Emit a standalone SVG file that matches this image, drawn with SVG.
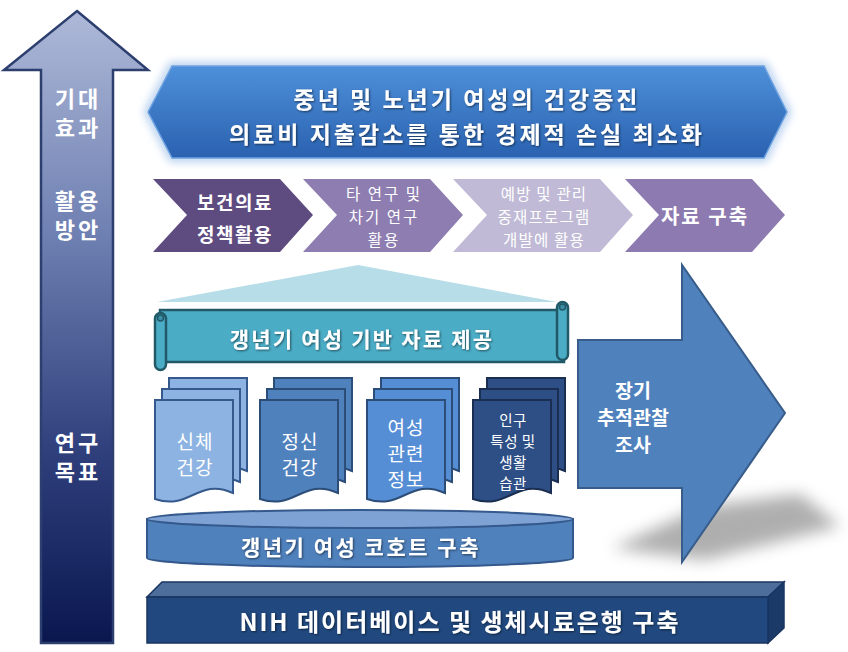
<svg xmlns="http://www.w3.org/2000/svg" width="848" height="652" viewBox="0 0 848 652">
<defs>
<linearGradient id="gArrow" x1="0" y1="0" x2="0" y2="1">
<stop offset="0" stop-color="#AEB9D8"/>
<stop offset="0.35" stop-color="#6F80B2"/>
<stop offset="0.7" stop-color="#2F3F7C"/>
<stop offset="1" stop-color="#0A174F"/>
</linearGradient>
<linearGradient id="gBanner" x1="0" y1="0" x2="0" y2="1">
<stop offset="0" stop-color="#4E90DA"/>
<stop offset="1" stop-color="#2A62B0"/>
</linearGradient>
<filter id="blur4" x="-20%" y="-20%" width="140%" height="140%"><feGaussianBlur stdDeviation="4"/></filter>
<filter id="blur8" x="-30%" y="-50%" width="160%" height="200%"><feGaussianBlur stdDeviation="8"/></filter>
<filter id="ts" x="-10%" y="-30%" width="120%" height="160%"><feDropShadow dx="1" dy="1" stdDeviation="0.8" flood-color="#000" flood-opacity="0.55"/></filter>
</defs>
<style>
text{font-family:"Noto Sans CJK KR","Noto Sans",sans-serif;fill:#fff;text-anchor:middle;dominant-baseline:central}
.b{font-weight:bold}
.doc1{fill:#8DB3E2;stroke:#35598C;stroke-width:2}
.doc2{fill:#4F81BD;stroke:#2C4D78;stroke-width:2}
.doc3{fill:#558ED5;stroke:#2C4D78;stroke-width:2}
.doc4{fill:#2D4F86;stroke:#1A2E52;stroke-width:2}
</style>
<rect width="848" height="652" fill="#fff"/>

<g id="axis-arrow">
<path d="M77,11 L148,70 L113,70 L113,643 L41,643 L41,70 L4,70 Z" fill="url(#gArrow)" stroke="#2D3F6E" stroke-width="2.5"/>
<text class="b" font-size="22" letter-spacing="3"><tspan x="78" y="97">기대</tspan><tspan x="78" dy="29">효과</tspan></text>
<text class="b" font-size="22" letter-spacing="3"><tspan x="78" y="199">활용</tspan><tspan x="78" dy="29">방안</tspan></text>
<text class="b" font-size="22" letter-spacing="3"><tspan x="78" y="441">연구</tspan><tspan x="78" dy="29">목표</tspan></text>
</g>

<g id="banner">
<polygon points="148,112 172,66 764,66 787,112 764,158 172,158" fill="none" stroke="#A9C7EC" stroke-width="7" filter="url(#blur4)"/>
<polygon points="148,112 172,66 764,66 787,112 764,158 172,158" fill="url(#gBanner)" stroke="#6FA3E0" stroke-width="1.5"/>
<text class="b" font-size="23" letter-spacing="3" filter="url(#ts)"><tspan x="467" y="98">중년 및 노년기 여성의 건강증진</tspan><tspan x="467" dy="35">의료비 지출감소를 통한 경제적 손실 최소화</tspan></text>
</g>

<g id="chevron1">
<polygon points="153,179 280,179 313,215 280,252 153,252 187,215" fill="#5E4B80"/>
<text class="b" font-size="19" letter-spacing="1.5"><tspan x="235" y="201">보건의료</tspan><tspan x="235" dy="32">정책활용</tspan></text>
</g>
<g id="chevron2">
<polygon points="303,179 430,179 463,215 430,252 303,252 337,215" fill="#8E7DB1"/>
<text font-size="15.5" letter-spacing="2"><tspan x="384" y="193">타 연구 및</tspan><tspan x="384" dy="23">차기 연구</tspan><tspan x="384" dy="23">활용</tspan></text>
</g>
<g id="chevron3">
<polygon points="453,179 600,179 633,215 600,252 453,252 487,215" fill="#C0BAD6"/>
<text font-size="15.5" letter-spacing="1.2"><tspan x="544" y="193">예방 및 관리</tspan><tspan x="544" dy="23">중재프로그램</tspan><tspan x="544" dy="23">개발에 활용</tspan></text>
</g>
<g id="chevron4">
<polygon points="625,179 752,179 785,215 752,252 625,252 659,215" fill="#8C7AB0"/>
<text class="b" x="705" y="215" font-size="20" letter-spacing="2">자료 구축</text>
</g>

<g id="fan">
<polygon points="358,265 557,302 157,302" fill="#B7DDE8"/>
</g>

<g id="scroll">
<rect x="160" y="310" width="404" height="52" fill="#4BACC6" stroke="#215968" stroke-width="2.5"/>
<rect x="155" y="313" width="11" height="57" rx="5.5" fill="#4BACC6" stroke="#215968" stroke-width="2.5"/>
<circle cx="160.5" cy="318" r="3" fill="#3A8EA6" stroke="#215968" stroke-width="1.5"/>
<rect x="557" y="302" width="11" height="58" rx="5.5" fill="#4BACC6" stroke="#215968" stroke-width="2.5"/>
<circle cx="562.5" cy="307" r="3" fill="#3A8EA6" stroke="#215968" stroke-width="1.5"/>
<text class="b" x="362" y="338" font-size="21" letter-spacing="2.2" filter="url(#ts)">갱년기 여성 기반 자료 제공</text>
</g>

<g id="doc1">
<path class="doc1" d="M169,378 H247 V471 C212,455 204,489 169,477 Z"/>
<path class="doc1" d="M162,389 H240 V482 C205,466 197,500 162,488 Z"/>
<path class="doc1" d="M155,400 H233 V493 C198,477 190,511 155,499 Z"/>
<text font-size="19" letter-spacing="1"><tspan x="195" y="440">신체</tspan><tspan x="195" dy="26">건강</tspan></text>
</g>
<g id="doc2">
<path class="doc2" d="M274,378 H352 V471 C317,455 309,489 274,477 Z"/>
<path class="doc2" d="M267,389 H345 V482 C310,466 302,500 267,488 Z"/>
<path class="doc2" d="M260,400 H338 V493 C303,477 295,511 260,499 Z"/>
<text font-size="19" letter-spacing="1"><tspan x="300" y="440">정신</tspan><tspan x="300" dy="26">건강</tspan></text>
</g>
<g id="doc3">
<path class="doc3" d="M381,378 H459 V471 C424,455 416,489 381,477 Z"/>
<path class="doc3" d="M374,389 H452 V482 C417,466 409,500 374,488 Z"/>
<path class="doc3" d="M367,400 H445 V493 C410,477 402,511 367,499 Z"/>
<text font-size="19" letter-spacing="1"><tspan x="406" y="426">여성</tspan><tspan x="406" dy="26">관련</tspan><tspan x="406" dy="26">정보</tspan></text>
</g>
<g id="doc4">
<path class="doc4" d="M487,378 H565 V471 C530,455 522,489 487,477 Z"/>
<path class="doc4" d="M480,389 H558 V482 C523,466 515,500 480,488 Z"/>
<path class="doc4" d="M473,400 H551 V493 C516,477 508,511 473,499 Z"/>
<text font-size="14.5" letter-spacing="0.5"><tspan x="513" y="419">인구</tspan><tspan x="513" dy="21">특성 및</tspan><tspan x="513" dy="21">생활</tspan><tspan x="513" dy="21">습관</tspan></text>
</g>

<g id="cylinder">
<path d="M147,519 V558 A213,9 0 0 0 573,558 V519 Z" fill="#4F81BD" stroke="#35598C" stroke-width="2"/>
<ellipse cx="360" cy="519" rx="213" ry="9" fill="#7EA2D3" stroke="#35598C" stroke-width="2"/>
<text class="b" x="361" y="546" font-size="21" letter-spacing="2.5" filter="url(#ts)">갱년기 여성 코호트 구축</text>
</g>

<g id="long-arrow">
<path d="M612,548 L705,506 L800,494 L840,526 L705,560 Z" fill="#7A7A7A" opacity="0.6" filter="url(#blur8)"/>
<polygon points="578,340 682,340 682,265 785,413 682,562 682,488 578,488" fill="#4F81BD" stroke="#385D8A" stroke-width="2"/>
<text class="b" font-size="19.5"><tspan x="633" y="389">장기</tspan><tspan x="633" dy="27">추적관찰</tspan><tspan x="633" dy="27">조사</tspan></text>
</g>

<g id="nih-bar">
<polygon points="147,597 162,582 784,582 768,597" fill="#4D6D9B" stroke="#1A3560" stroke-width="1.5"/>
<polygon points="768,597 784,582 784,628 768,643" fill="#1B3A67" stroke="#1A3560" stroke-width="1.5"/>
<rect x="147" y="597" width="621" height="46" fill="#21497F" stroke="#1A3560" stroke-width="1.5"/>
<text class="b" x="460" y="620" font-size="24" letter-spacing="2" filter="url(#ts)">NIH 데이터베이스 및 생체시료은행 구축</text>
</g>

<g id="connectors"></g>
</svg>
